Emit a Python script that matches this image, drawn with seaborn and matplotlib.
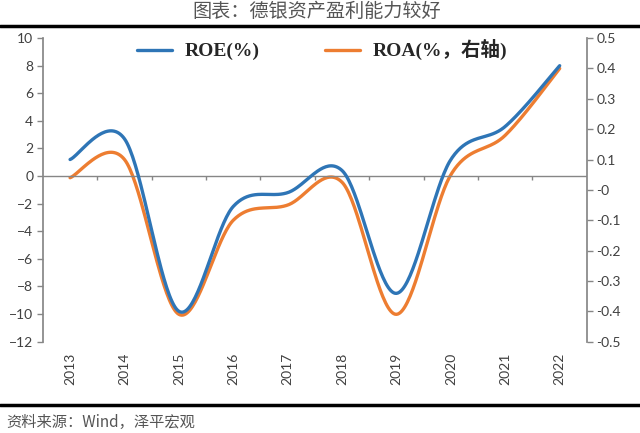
"""
德银资产盈利能力 — ROE (left axis) and ROA (right axis), smoothed lines.
"""
import numpy as np
import matplotlib
matplotlib.use("Agg")
import matplotlib.pyplot as plt
import seaborn as sns

# ── Data ───────────────────────────────────────────────────────────────────────
years = ["2013", "2014", "2015", "2016", "2017", "2018", "2019", "2020", "2021", "2022"]
roe = [1.2, 2.7, -9.8, -2.2, -1.2, 0.4, -8.5, 1.2, 3.6, 8.0]
roa = [0.04, 0.10, -0.41, -0.10, -0.05, 0.025, -0.41, 0.05, 0.18, 0.40]

title = "图表：德银资产盈利能力较好"
source = "资料来源：Wind，泽平宏观"

BLUE = "#2E75B6"
ORANGE = "#ED7D31"
GRAY = "#868686"

sns.set_theme(style="white")
plt.rcParams["font.family"] = ["Lato", "Noto Sans CJK SC", "DejaVu Sans"]


def smooth(y, n=40):
    """Excel-like smoothed line: Catmull-Rom segments as cubic Bezier."""
    y = np.asarray(y, dtype=float)
    x = np.arange(len(y), dtype=float)
    xs, ys = [], []
    for i in range(len(y) - 1):
        p0 = (x[max(i - 1, 0)], y[max(i - 1, 0)])
        p1 = (x[i], y[i])
        p2 = (x[i + 1], y[i + 1])
        p3 = (x[min(i + 2, len(y) - 1)], y[min(i + 2, len(y) - 1)])
        c1 = (p1[0] + (p2[0] - p0[0]) / 6, p1[1] + (p2[1] - p0[1]) / 6)
        c2 = (p2[0] - (p3[0] - p1[0]) / 6, p2[1] - (p3[1] - p1[1]) / 6)
        t = np.linspace(0, 1, n, endpoint=(i == len(y) - 2))
        b0, b1, b2, b3 = (1 - t) ** 3, 3 * t * (1 - t) ** 2, 3 * t ** 2 * (1 - t), t ** 3
        xs.append(b0 * p1[0] + b1 * c1[0] + b2 * c2[0] + b3 * p2[0])
        ys.append(b0 * p1[1] + b1 * c1[1] + b2 * c2[1] + b3 * p2[1])
    return np.concatenate(xs), np.concatenate(ys)


fig = plt.figure(figsize=(6.4, 4.33), dpi=100)
ax = fig.add_axes([0.067, 0.211, 0.850, 0.701])
ax2 = ax.twinx()

xr, yr = smooth(roe)
xa, ya = smooth(roa)
sns.lineplot(x=xr, y=yr, ax=ax, color=BLUE, lw=2.4, sort=False, label="ROE(%)", legend=False)
sns.lineplot(x=xa, y=ya, ax=ax2, color=ORANGE, lw=2.4, sort=False, label="ROA(%，右轴)", legend=False)
ax.set_zorder(ax2.get_zorder() + 1)
ax.patch.set_visible(False)

# axes limits / ticks
ax.set_xlim(-0.5, len(years) - 0.5)
ax.set_ylim(-12, 10)
ax.set_yticks(range(-12, 11, 2))
right_ticks = np.round(np.arange(-0.5, 0.51, 0.1), 1)
ax2.set_ylim(-0.5, 0.5)
ax2.set_yticks(right_ticks)
ax2.set_yticklabels([f"{v:g}" for v in right_ticks])

ax.set_xticks(range(len(years)))
ax.set_xticklabels(years, rotation=90)
ax.tick_params(axis="x", length=0, pad=8, labelsize=10, colors="#404040")
ax.tick_params(axis="y", left=True, length=4, width=1, color=GRAY, labelsize=10,
               labelcolor="#404040", pad=3)
ax2.tick_params(axis="y", right=True, length=4, width=1, color=GRAY, labelsize=10,
                labelcolor="#404040", pad=3)

for a in (ax, ax2):
    for s in ("top", "bottom", "left", "right"):
        a.spines[s].set_visible(False)
ax.spines["left"].set_visible(True)
ax.spines["left"].set_color(GRAY)
ax2.spines["right"].set_visible(True)
ax2.spines["right"].set_color(GRAY)

# zero axis with category boundary ticks
ax.axhline(0, color=GRAY, lw=1, zorder=0)
ax.vlines(np.arange(0.5, len(years) - 0.5), -0.3, 0, color=GRAY, lw=1)

# legend
h1, l1 = ax.get_legend_handles_labels()
h2, l2 = ax2.get_legend_handles_labels()
ax.legend(h1 + h2, l1 + l2, loc="center", bbox_to_anchor=(0.513, 0.961), ncol=2,
          frameon=False, handlelength=1.8, handletextpad=0.67, columnspacing=3.35,
          prop={"family": ["Liberation Serif", "Noto Sans CJK SC"], "weight": "bold", "size": 14})

# title, rules and source
fig.text(0.495, 0.973, title, ha="center", va="center", fontsize=13.8, color="#555555",
         family=["Noto Sans CJK SC", "DejaVu Sans"])
fig.add_artist(plt.Line2D([0, 1], [0.940, 0.940], color="black", lw=2.5))
fig.add_artist(plt.Line2D([0, 1], [0.0647, 0.0647], color="black", lw=2.5))
fig.text(0.01, 0.025, source, ha="left", va="center", fontsize=11, color="#555555",
         style="italic", family=["Noto Sans CJK SC", "DejaVu Sans"])

fig.savefig("out.png", dpi=100)
